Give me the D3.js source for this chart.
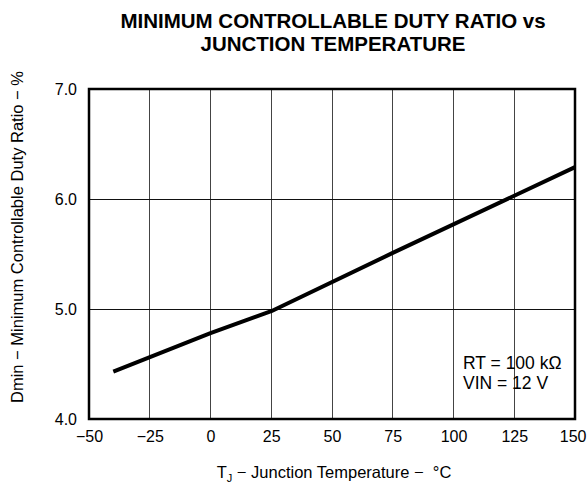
<!DOCTYPE html>
<html><head><meta charset="utf-8">
<script src="https://cdn.jsdelivr.net/npm/d3@7"></script>
<style>body{margin:0;background:#fff}svg{display:block;font-family:"Liberation Sans",Arial,sans-serif}</style>
</head><body>
<script>
const temps = [-40, 0, 25, 75, 125, 150];
const dmin = [4.43, 4.78, 4.98, 5.51, 6.03, 6.29];
const xTicks = [-50, -25, 0, 25, 50, 75, 100, 125, 150];
const yTicks = [4.0, 5.0, 6.0, 7.0];
const titleLines = ["MINIMUM CONTROLLABLE DUTY RATIO vs", "JUNCTION TEMPERATURE"];
const notes = ["RT = 100 kΩ", "VIN = 12 V"];

const W = 587, H = 485;
const m = {l: 89, r: 12, t: 89, b: 66};
const svg = d3.select("body").append("svg").attr("width", W).attr("height", H);
const x = d3.scaleLinear().domain([-50, 150]).range([m.l, W - m.r]);
const y = d3.scaleLinear().domain([4, 7]).range([H - m.b, m.t]);

// grid
svg.append("g").selectAll("line").data(xTicks.slice(1, -1)).join("line")
  .attr("x1", d => x(d)).attr("x2", d => x(d)).attr("y1", m.t).attr("y2", H - m.b)
  .attr("stroke", "#444").attr("stroke-width", 1).attr("shape-rendering", "crispEdges");
svg.append("g").selectAll("line").data(yTicks.slice(1, -1)).join("line")
  .attr("x1", m.l).attr("x2", W - m.r).attr("y1", d => y(d)).attr("y2", d => y(d))
  .attr("stroke", "#111").attr("stroke-width", 1).attr("shape-rendering", "crispEdges");

// axes (labels only)
const xAxis = svg.append("g").attr("transform", `translate(0,${H - m.b})`)
  .call(d3.axisBottom(x).tickValues(xTicks).tickSize(0).tickPadding(12).tickFormat(d => d < 0 ? "\u2212" + Math.abs(d) : d));
const yAxis = svg.append("g").attr("transform", `translate(${m.l},0)`)
  .call(d3.axisLeft(y).tickValues(yTicks).tickSize(0).tickPadding(12).tickFormat(d3.format(".1f")));
[xAxis, yAxis].forEach(a => {
  a.select(".domain").remove();
  a.selectAll("text").attr("font-size", 16).attr("fill", "#000").attr("font-family", '"Liberation Sans",Arial,sans-serif');
});
// keep last x label inside the window
xAxis.selectAll(".tick").filter(d => d === 150).select("text").attr("text-anchor", "end").attr("x", 11);

// frame
svg.append("rect").attr("x", m.l).attr("y", m.t).attr("width", W - m.r - m.l).attr("height", H - m.b - m.t)
  .attr("fill", "none").attr("stroke", "#000").attr("stroke-width", 2.5);

// data line
const pts = temps.map((t, i) => [t, dmin[i]]);
svg.append("path").datum(pts)
  .attr("d", d3.line().x(d => x(d[0])).y(d => y(d[1])))
  .attr("fill", "none").attr("stroke", "#000").attr("stroke-width", 4).attr("stroke-linejoin", "round");

// title
svg.append("g").selectAll("text").data(titleLines).join("text")
  .attr("x", 333).attr("y", (d, i) => 28 + i * 23)
  .attr("text-anchor", "middle").attr("font-weight", "bold").attr("font-size", 20.5).text(d => d);

// notes
svg.append("g").selectAll("text").data(notes).join("text")
  .attr("x", 463).attr("y", (d, i) => 369 + i * 20).attr("font-size", 17.5).text(d => d);

// x title
const xt = svg.append("text").attr("x", 334).attr("y", 478)
  .attr("text-anchor", "middle").attr("font-size", 16.5);
xt.append("tspan").text("T");
xt.append("tspan").attr("font-size", 11).attr("dy", 4).text("J");
xt.append("tspan").attr("dy", -4).attr("xml:space", "preserve").text(" \u2212 Junction Temperature \u2212  °C");

// y title
svg.append("text").attr("transform", `translate(23,237) rotate(-90)`)
  .attr("text-anchor", "middle").attr("font-size", 16.5)
  .text("Dmin \u2212 Minimum Controllable Duty Ratio \u2212 %");
</script>
</body></html>
